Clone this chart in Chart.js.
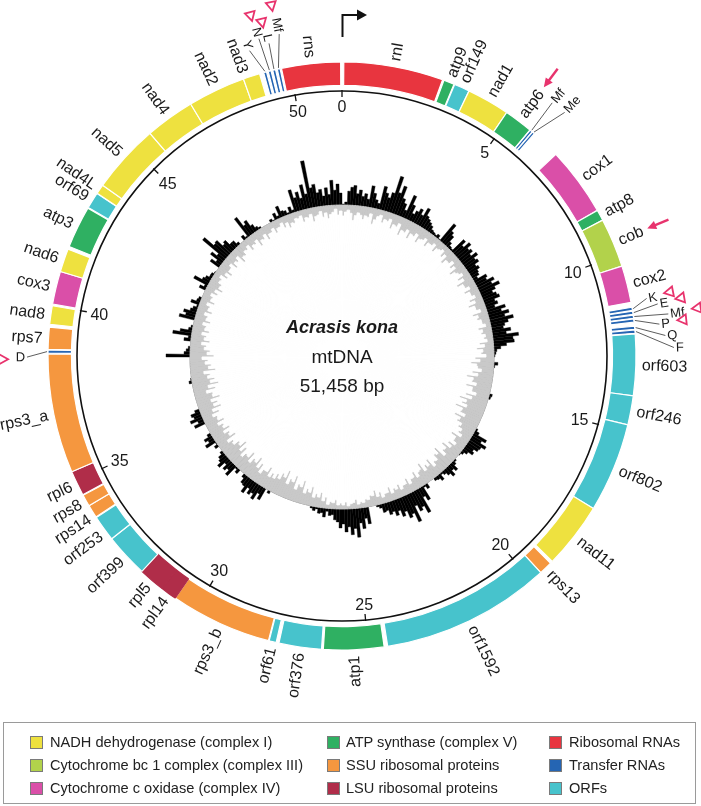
<!DOCTYPE html>
<html>
<head>
<meta charset="utf-8">
<script src="https://cdn.jsdelivr.net/npm/chart.js@4.4.1/dist/chart.umd.min.js"></script>
<style>
  html, body { margin: 0; padding: 0; background: #fff; }
  #page { position: relative; width: 701px; height: 806px; overflow: hidden; font-family: "Liberation Sans", Arial, sans-serif; }
  #skew { position: absolute; left: 142px; top: 157px; }
  #map { position: absolute; left: 0; top: 0; }
  #legend { position: absolute; left: 3px; top: 722px; width: 693px; height: 82px; border: 1px solid #9a9a9a; box-sizing: border-box; }
  .sw { position: absolute; width: 13px; height: 13px; border: 1px solid #7a7a7a; box-sizing: border-box; }
  .lt { position: absolute; font-size: 14.6px; line-height: 16px; color: #222; white-space: nowrap; }
</style>
</head>
<body>
<div id="page">
  <canvas id="skew" width="400" height="400"></canvas>
  <canvas id="map" width="701" height="806"></canvas>
  <div id="legend"></div>
</div>
<script>
// genome length in kb
const genomeLength = 51.458;

// genes on the map (kb)
const geneNames = ['rnl','atp9','orf149','nad1','atp6','Mf','Me','cox1','atp8','cob','cox2',
  'K','E','Mf','P','Q','F','orf603','orf246','orf802','nad11','rps13','orf1592','atp1','orf376','orf61',
  'rps3_b','rpl14','rpl5','orf399','orf253','rps14','rps8','rpl6','rps3_a','D','rps7','nad8','cox3','nad6',
  'atp3','orf69','nad4L','nad5','nad4','nad2','nad3','Y','N','L','Mf','rns'];
const geneStart = [0.05, 2.90, 3.22, 3.66, 4.87, 5.69, 5.77, 6.67, 8.62, 8.93, 10.32,
  11.50, 11.61, 11.72, 11.83, 12.03, 12.14, 12.25, 13.98, 14.80, 17.33, 19.27, 19.65, 24.55, 26.30, 27.58,
  27.80, 30.67, 31.12, 31.86, 33.10, 33.85, 34.22, 34.57, 35.28, 38.67, 38.78, 39.48, 40.05, 40.98,
  41.72, 42.93, 43.40, 43.67, 45.63, 47.03, 48.66, 49.25, 49.38, 49.51, 49.64, 49.76];
const geneEnd = [2.86, 3.20, 3.66, 4.87, 5.68, 5.76, 5.84, 8.62, 8.93, 10.32, 11.36,
  11.59, 11.70, 11.81, 11.92, 12.12, 12.23, 13.98, 14.80, 17.33, 19.20, 19.65, 24.45, 26.25, 27.50, 27.78,
  30.67, 31.12, 31.86, 33.10, 33.83, 34.22, 34.55, 35.28, 38.65, 38.76, 39.40, 40.00, 40.98, 41.64,
  42.91, 43.39, 43.67, 45.63, 47.03, 48.66, 49.13, 49.33, 49.46, 49.59, 49.72, 51.42];
const geneGroup = ['rrna','atp','orf','nad','atp','trna','trna','cox','atp','cob','cox',
  'trna','trna','trna','trna','trna','trna','orf','orf','orf','nad','ssu','orf','atp','orf','orf',
  'ssu','lsu','lsu','orf','orf','ssu','ssu','lsu','ssu','trna','ssu','nad','cox','nad',
  'atp','orf','nad','nad','nad','nad','nad','trna','trna','trna','trna','rrna'];

// functional groups
const groupKeys = ['nad','cob','cox','atp','ssu','lsu','rrna','trna','orf'];
const groupNames = ['NADH dehydrogenase (complex I)','Cytochrome bc 1 complex (complex III)','Cytochrome c oxidase (complex IV)',
  'ATP synthase (complex V)','SSU ribosomal proteins','LSU ribosomal proteins',
  'Ribosomal RNAs','Transfer RNAs','ORFs'];
const groupColors = ['#eee13f','#b2d24b','#da4fa8','#2fb062','#f5973f','#b02d49','#e8353f','#2565b3','#47c3cc'];

// scale ticks (kb)
const tickKb = [0, 5, 10, 15, 20, 25, 30, 35, 40, 45, 50];

// inner histogram, 360 windows of 1 degree from the origin, clockwise
const skewPos = [
  1,3,14,18,20,12,16,10,13,8,  22,15,9,6,24,18,14,20,38,22,  30,18,14,8,25,16,8,12,16,11,
  20,13,11,9,7,4,3,2,4,1,  22,15,12,6,3,2,17,12,19,14,  16,12,18,13,15,10,12,9,8,5,
  14,12,19,15,22,16,12,15,17,11,  13,9,19,14,21,16,24,18,14,12,  19,14,26,20,21,13,7,3,2,1,
  0,0,4,1,0,0,0,0,0,0,  0,0,0,0,3,2,0,0,0,0,  0,0,0,0,0,0,0,0,2,5,
  15,11,18,14,13,9,11,6,3,1,  0,0,2,4,9,6,11,7,4,2,  7,4,3,0,0,0,5,2,15,10,
  26,18,21,14,30,20,23,15,19,12,  16,11,13,8,9,4,2,0,0,0,  17,11,21,15,29,20,26,18,23,15,
  19,13,11,6,7,3,9,5,6,2,  4,2,0,0,0,0,0,0,0,0,  0,0,0,0,0,0,0,0,3,0,
  13,8,16,11,14,9,16,10,9,4,  0,0,5,2,13,8,11,6,13,9,  7,3,0,0,4,1,11,6,9,4,
  0,0,0,0,11,6,13,8,10,5,  0,0,0,0,0,0,0,0,0,0,  3,1,0,0,0,0,0,0,0,0,
  24,6,4,2,0,0,7,3,19,12,  4,2,0,0,16,10,13,7,5,2,  9,4,3,0,0,0,7,3,16,8,
  6,3,3,1,0,0,11,6,15,9,  30,18,19,11,13,7,7,3,0,0,  5,2,23,12,15,8,4,2,0,0,
  0,0,3,1,7,3,12,6,5,2,  7,3,23,14,19,12,25,15,48,20,  23,14,17,10,18,11,25,15,21,12
];
const skewNeg = [
  11,7,5,8,15,10,7,9,13,9,  10,6,16,11,7,5,12,8,9,6,  15,10,11,7,18,12,13,9,17,11,
  12,8,16,11,10,7,14,9,9,6,  13,8,7,5,11,7,15,10,10,6,  12,8,16,11,9,6,13,8,17,11,
  11,7,14,9,9,6,13,8,16,10,  10,6,15,10,12,8,8,5,13,9,  11,7,9,6,14,9,17,11,13,8,
  19,14,23,17,16,12,21,15,26,19,  20,15,25,18,18,13,23,16,28,20,  24,18,29,21,22,16,26,19,21,15,
  17,12,14,9,19,13,13,9,16,11,  20,14,15,10,22,16,18,12,13,9,  19,13,16,11,21,15,14,10,17,12,
  12,8,15,10,10,7,13,9,11,7,  14,9,9,6,12,8,15,10,11,7,  8,5,6,4,9,6,5,3,7,4,
  6,4,9,6,7,4,11,7,15,10,  13,9,19,13,16,11,23,16,18,12,  25,18,20,14,27,19,22,15,19,13,
  17,12,21,15,15,10,19,13,23,16,  18,12,22,15,16,11,20,14,24,17,  19,13,15,10,21,15,17,12,20,14,
  16,11,19,13,14,10,18,12,22,15,  20,14,24,17,18,12,22,15,26,18,  23,16,19,13,25,18,21,15,18,12,
  24,17,20,14,16,11,19,13,15,10,  17,12,13,9,16,11,12,8,15,10,  11,7,14,9,10,7,13,9,16,11,
  12,8,9,6,13,9,15,10,10,7,  14,9,11,7,16,11,12,8,9,6,  13,9,10,7,15,10,11,7,14,9,
  9,6,12,8,8,5,11,7,13,9,  10,6,7,5,12,8,9,6,14,9,  8,5,11,7,13,9,7,4,10,6
];

// annotations
const arrowGenes = ['atp6', 'cob'];

// label layout tweaks (kb shift of the label, leader end radius, marker)
const labelNudge = { rps14: -0.12, nad3: -0.18, orf253: -0.1 };
const joinedGenes = ['rpl14', 'rpl5'];
const trnaLayout = [
  {dk: -0.05, r: 331, tri: false}, {dk: 0.26, r: 332, tri: false},
  {dk: -0.21, r: 312, tri: true}, {dk: -0.13, r: 322, tri: true}, {dk: 0.05, r: 331, tri: true},
  {dk: 0.17, r: 321, tri: true}, {dk: 0.27, r: 326, tri: false}, {dk: 0.47, r: 334, tri: false},
  {dk: -0.15, r: 317, tri: true},
  {dk: -0.24, r: 321, tri: false}, {dk: -0.06, r: 330, tri: true}, {dk: 0.03, r: 323, tri: true}, {dk: 0.2, r: 330, tri: true}
];

const FONT = '"Liberation Sans", Arial, sans-serif';
const PINK = '#e8336d';

function colorOf(g) { return groupColors[groupKeys.indexOf(g)]; }

// build the ring segments, white gaps between genes
var segValues = [], segColors = [], segBorder = [], segWidth = [], segGene = [];
var pos = 0;
for (var i = 0; i < geneNames.length; i++) {
  if (geneStart[i] > pos + 0.0001) {
    segValues.push(geneStart[i] - pos); segColors.push('rgba(0,0,0,0)');
    segBorder.push('rgba(0,0,0,0)'); segWidth.push(0); segGene.push(-1);
  }
  segValues.push(geneEnd[i] - geneStart[i]);
  segColors.push(colorOf(geneGroup[i]));
  segBorder.push(joinedGenes.indexOf(geneNames[i]) >= 0 ? colorOf(geneGroup[i]) : '#ffffff');
  segWidth.push(1.2);
  segGene.push(i);
  pos = geneEnd[i];
}
if (pos < genomeLength) {
  segValues.push(genomeLength - pos); segColors.push('rgba(0,0,0,0)');
  segBorder.push('rgba(0,0,0,0)'); segWidth.push(0); segGene.push(-1);
}

function radialLabel(ctx, cx, cy, text, a, r, size) {
  var deg = (((a + Math.PI / 2) * 180 / Math.PI) % 360 + 360) % 360;
  ctx.save();
  ctx.font = size + 'px ' + FONT;
  ctx.fillStyle = '#1a1a1a';
  ctx.translate(cx + r * Math.cos(a), cy + r * Math.sin(a));
  if (deg < 175) { ctx.rotate(a); ctx.textAlign = 'left'; }
  else { ctx.rotate(a + Math.PI); ctx.textAlign = 'right'; }
  ctx.textBaseline = 'alphabetic';
  ctx.fillText(text, 0, size * 0.32);
  ctx.restore();
}

function arrow(ctx, x1, y1, x2, y2, color, lw, head) {
  var ang = Math.atan2(y2 - y1, x2 - x1);
  ctx.save();
  ctx.strokeStyle = color; ctx.fillStyle = color; ctx.lineWidth = lw;
  ctx.beginPath();
  ctx.moveTo(x1, y1);
  ctx.lineTo(x2 - head * 0.8 * Math.cos(ang), y2 - head * 0.8 * Math.sin(ang));
  ctx.stroke();
  ctx.beginPath();
  ctx.moveTo(x2, y2);
  ctx.lineTo(x2 - head * Math.cos(ang - 0.45), y2 - head * Math.sin(ang - 0.45));
  ctx.lineTo(x2 - head * Math.cos(ang + 0.45), y2 - head * Math.sin(ang + 0.45));
  ctx.closePath();
  ctx.fill();
  ctx.restore();
}

const mapDecor = {
  id: 'mapDecor',
  afterDraw(chart) {
    const ctx = chart.ctx;
    const meta = chart.getDatasetMeta(0);
    const cx = meta.data[0].x, cy = meta.data[0].y;
    const rot = meta.data[0].startAngle;
    const total = segValues.reduce((s, v) => s + v, 0);
    const angOf = kb => rot + kb / total * 2 * Math.PI;
    const P = (a, r) => [cx + r * Math.cos(a), cy + r * Math.sin(a)];

    // scale circle and ticks
    ctx.save();
    ctx.strokeStyle = '#111'; ctx.lineWidth = 1.6;
    ctx.beginPath(); ctx.arc(cx, cy, 265, 0, 2 * Math.PI); ctx.stroke();
    ctx.lineWidth = 1.3;
    ctx.font = '16px ' + FONT; ctx.fillStyle = '#1a1a1a';
    ctx.textAlign = 'center'; ctx.textBaseline = 'alphabetic';
    tickKb.forEach(k => {
      const a = angOf(k);
      const p1 = P(a, 266), p2 = P(a, 259);
      ctx.beginPath(); ctx.moveTo(p1[0], p1[1]); ctx.lineTo(p2[0], p2[1]); ctx.stroke();
      const t = String(k);
      const w = ctx.measureText(t).width, h = 11.5;
      const r = 256 - (Math.abs(Math.cos(a)) * w / 2 + Math.abs(Math.sin(a)) * h / 2);
      const p = P(a, r);
      ctx.fillText(t, p[0], p[1] + h / 2);
    });
    ctx.restore();

    // gene labels
    var tIdx = 0;
    meta.data.forEach((arc, s) => {
      const g = segGene[s];
      if (g < 0) return;
      const name = geneNames[g];
      const midKb = (geneStart[g] + geneEnd[g]) / 2;
      if (geneGroup[g] !== 'trna') {
        const a = (arc.startAngle + arc.endAngle) / 2 + (labelNudge[name] || 0) / total * 2 * Math.PI;
        radialLabel(ctx, cx, cy, name, a, 300, 16);
        if (arrowGenes.indexOf(name) >= 0) {
          ctx.font = '16px ' + FONT;
          const w = ctx.measureText(name).width;
          const t1 = P(a, 300 + w + 28), t2 = P(a, 300 + w + 5);
          arrow(ctx, t1[0], t1[1], t2[0], t2[1], PINK, 2.4, 10);
        }
        return;
      }
      const lay = trnaLayout[tIdx++];
      const ga = angOf(midKb), la = angOf(midKb + lay.dk);
      const q1 = P(ga, 295), q2 = P(la, lay.r - 2);
      ctx.save();
      ctx.strokeStyle = '#333'; ctx.lineWidth = 0.8;
      ctx.beginPath(); ctx.moveTo(q1[0], q1[1]); ctx.lineTo(q2[0], q2[1]); ctx.stroke();
      ctx.restore();
      radialLabel(ctx, cx, cy, name, la, lay.r, 13);
      if (lay.tri) {
        ctx.font = '13px ' + FONT;
        const w = ctx.measureText(name).width;
        const ta = angOf(midKb + lay.dk - 0.05), tr = lay.r + w + 12;
        const tip = P(ta, tr - 4.5), b = P(ta, tr + 4.5);
        const nx = -Math.sin(ta), ny = Math.cos(ta);
        ctx.save();
        ctx.strokeStyle = PINK; ctx.lineWidth = 1.8; ctx.lineJoin = 'miter';
        ctx.beginPath();
        ctx.moveTo(tip[0], tip[1]);
        ctx.lineTo(b[0] + nx * 5, b[1] + ny * 5);
        ctx.lineTo(b[0] - nx * 5, b[1] - ny * 5);
        ctx.closePath(); ctx.stroke();
        ctx.restore();
      }
    });

    // origin arrow
    const o1 = P(angOf(0), 319), o2 = P(angOf(0), 341);
    ctx.save();
    ctx.strokeStyle = '#111'; ctx.fillStyle = '#111'; ctx.lineWidth = 2;
    ctx.beginPath();
    ctx.moveTo(o1[0] + 0.5, o1[1]); ctx.lineTo(o2[0] + 0.5, o2[1]); ctx.lineTo(o2[0] + 16, o2[1]);
    ctx.stroke();
    ctx.beginPath();
    ctx.moveTo(o2[0] + 15, o2[1] - 5.5); ctx.lineTo(o2[0] + 25, o2[1]); ctx.lineTo(o2[0] + 15, o2[1] + 5.5);
    ctx.closePath(); ctx.fill();
    ctx.restore();

    // centre titles
    ctx.save();
    ctx.fillStyle = '#1a1a1a'; ctx.textAlign = 'center'; ctx.textBaseline = 'alphabetic';
    ctx.font = 'italic bold 18px ' + FONT;
    ctx.fillText('Acrasis kona', cx, cy - 23);
    ctx.font = '19px ' + FONT;
    ctx.fillText('mtDNA', cx, cy + 7);
    ctx.fillText('51,458 bp', cx, cy + 36);
    ctx.restore();
  }
};

// gene ring
new Chart(document.getElementById('map'), {
  type: 'doughnut',
  data: {
    labels: segGene.map(g => g < 0 ? '' : geneNames[g]),
    datasets: [{
      data: segValues,
      backgroundColor: segColors,
      borderColor: segBorder,
      borderWidth: segWidth
    }]
  },
  options: {
    responsive: false,
    animation: false,
    events: [],
    radius: 294,
    cutout: 270,
    layout: { padding: { left: 48, top: 62, right: 65, bottom: 156 } },
    plugins: { legend: { display: false }, tooltip: { enabled: false } }
  },
  plugins: [mapDecor]
});

// inner histogram: white disk on top, grey ring, black outer bars
new Chart(document.getElementById('skew'), {
  type: 'polarArea',
  data: {
    labels: skewPos.map((v, i) => i),
    datasets: [
      { data: skewNeg.map(v => -v), backgroundColor: '#ffffff', borderColor: '#ffffff', borderWidth: 1 },
      { data: skewNeg.map(() => 0), backgroundColor: '#c9c9c9', borderColor: '#c9c9c9', borderWidth: 1 },
      { data: skewPos, backgroundColor: '#000000', borderColor: '#000000', borderWidth: 0.4 }
    ]
  },
  options: {
    responsive: false,
    animation: false,
    events: [],
    scales: { r: { display: false, min: -152, max: 48 } },
    plugins: { legend: { display: false }, tooltip: { enabled: false } }
  }
});

// legend box
const legend = document.getElementById('legend');
const swX = [30, 327, 549], txX = [50, 346, 569], rowY = [742, 765, 788];
groupNames.forEach((name, i) => {
  const col = Math.floor(i / 3), row = i % 3;
  const sw = document.createElement('div');
  sw.className = 'sw';
  sw.style.background = groupColors[i];
  sw.style.left = (swX[col] - 4) + 'px';
  sw.style.top = (rowY[row] - 723 - 6.5) + 'px';
  legend.appendChild(sw);
  const tx = document.createElement('div');
  tx.className = 'lt';
  tx.textContent = name;
  tx.style.left = (txX[col] - 4) + 'px';
  tx.style.top = (rowY[row] - 723 - 8) + 'px';
  legend.appendChild(tx);
});
</script>
</body>
</html>
